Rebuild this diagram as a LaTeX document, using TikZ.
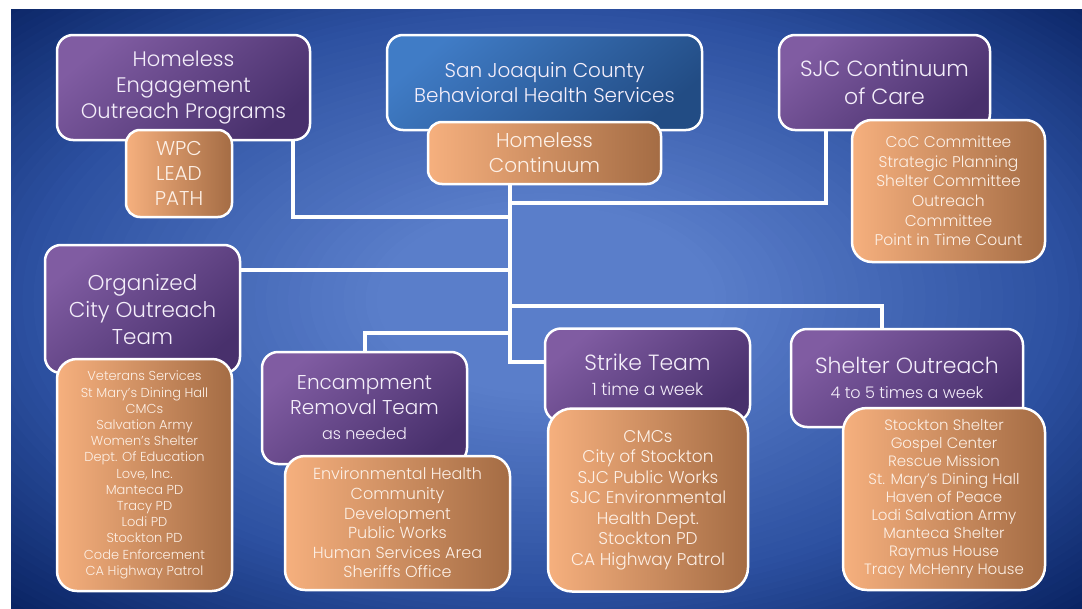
\documentclass[tikz,border=0pt]{standalone}
\usepackage{fontspec}
\setmainfont{Poppins Light}
\usetikzlibrary{positioning}

\definecolor{bgC}{RGB}{90,126,202}
\definecolor{bgM}{RGB}{44,80,160}
\definecolor{bgD}{RGB}{10,36,100}
\definecolor{purpleA}{RGB}{128,92,162}
\definecolor{purpleB}{RGB}{72,48,108}
\definecolor{blueA}{RGB}{64,124,198}
\definecolor{blueB}{RGB}{34,76,132}
\definecolor{orangeA}{RGB}{246,176,126}
\definecolor{orangeB}{RGB}{164,108,68}
\definecolor{lilac}{RGB}{244,238,250}
\definecolor{cream}{RGB}{253,240,230}
\pgfdeclarelayer{slide}
\pgfdeclarelayer{links}
\pgfsetlayers{slide,links,main}
\newcommand\setfs[2]{\fontsize{#1}{#2}\selectfont}

\begin{document}
\begin{tikzpicture}[x=1pt,y=-1pt,
  box/.style = {draw=white, line width=2.5pt, rounded corners=16pt, align=center, inner sep=0pt},
  purplebox/.style = {box, text=lilac, top color=purpleA, bottom color=purpleB, shading angle=40},
  bluebox/.style = {box, text=lilac, top color=blueA, bottom color=blueB, shading angle=40},
  orangebox/.style = {box, text=cream, left color=orangeA, right color=orangeB, rounded corners=20pt},
  link/.style = {draw=white, line width=4pt}]
\useasboundingbox (0,0) rectangle (1082,608);
\begin{pgfonlayer}{slide}
\fill[white] (0,0) rectangle (1082,608);
\clip (11,9) rectangle (1082,608);
% vignette, outer ring first
\foreach \i in {0,...,24} {
  \pgfmathsetmacro\r{1-0.32*\i/24}
  \pgfmathtruncatemacro\p{100-100*\i/24}
  \fill[bgD!\p!bgM] (546,300) ellipse [x radius=\r*770, y radius=\r*430];
}
\foreach \i in {1,...,32} {
  \pgfmathsetmacro\r{0.68-0.46*\i/32}
  \pgfmathtruncatemacro\p{100-100*\i/32}
  \fill[bgM!\p!bgC] (546,300) ellipse [x radius=\r*770, y radius=\r*430];
}
\end{pgfonlayer}

% heads
\node[bluebox, minimum width=315, minimum height=95, font=\setfs{20}{25}] (bhs) at (544.5,82.5) {San Joaquin County\\Behavioral Health Services};
\node[purplebox, minimum width=253, minimum height=105, font=\setfs{21}{26}] (heop) at (183.5,87.5) {Homeless\\Engagement\\Outreach Programs};
\node[purplebox, minimum width=211, minimum height=95, font=\setfs{22}{28}] (coc) at (884.5,82.5) {SJC Continuum\\of Care};
\node[purplebox, minimum width=195, minimum height=128, font=\setfs{21.5}{27}] (city) at (142.5,309) {Organized\\City Outreach\\Team};
\node[purplebox, minimum width=205, minimum height=112, font=\setfs{20}{25}] (enc) at (364.5,408) {Encampment\\Removal Team\\{\setfs{16}{22}as needed}};
\node[purplebox, minimum width=205, minimum height=93, font=\setfs{22}{25}] (strike) at (647.5,375) {Strike Team\\{\setfs{17}{20}1 time a week}};
\node[purplebox, minimum width=232, minimum height=98, font=\setfs{22}{25}] (shel) at (907,378) {Shelter Outreach\\{\setfs{16}{20}4 to 5 times a week}};

% orange lists
\node[orangebox, minimum width=233, minimum height=62, font=\setfs{20}{25}, rounded corners=14pt] (cont) at (544.5,153) {Homeless\\Continuum};
\node[orangebox, minimum width=106, minimum height=87, font=\setfs{20}{25}, rounded corners=14pt] (wpc) at (179,173.5) {WPC\\LEAD\\PATH};
\node[orangebox, minimum width=193, minimum height=142, font=\setfs{15.5}{19.6}] (cocsub) at (948.5,191) {CoC Committee\\Strategic Planning\\Shelter Committee\\Outreach\\Committee\\Point in Time Count};
\node[orangebox, minimum width=175, minimum height=232, font=\setfs{13}{16.2}] (citysub) at (144.5,475) {Veterans Services\\St Mary’s Dining Hall\\CMCs\\Salvation Army\\Women’s Shelter\\Dept. Of Education\\Love, Inc.\\Manteca PD\\Tracy PD\\Lodi PD\\Stockton PD\\Code Enforcement\\CA Highway Patrol};
\node[orangebox, minimum width=225, minimum height=134, font=\setfs{16}{19.6}] (encsub) at (397.5,523) {Environmental Health\\Community\\Development\\Public Works\\Human Services Area\\Sheriffs Office};
\node[orangebox, minimum width=200, minimum height=183, font=\setfs{17}{20.5}, rounded corners=24pt] (strikesub) at (648,500) {CMCs\\City of Stockton\\SJC Public Works\\SJC Environmental\\Health Dept.\\Stockton PD\\CA Highway Patrol};
\node[orangebox, minimum width=202, minimum height=182, font=\setfs{15}{18}, rounded corners=24pt] (shelsub) at (944,499) {Stockton Shelter\\Gospel Center\\Rescue Mission\\St. Mary’s Dining Hall\\Haven of Peace\\Lodi Salvation Army\\Manteca Shelter\\Raymus House\\Tracy McHenry House};

% connectors
\coordinate (jcoc) at (510,203);
\coordinate (jheop) at (510,217);
\coordinate (jcity) at (510,270);
\coordinate (jshel) at (510,306);
\coordinate (jenc) at (510,333);
\coordinate (jstr) at (510,362);
\begin{pgfonlayer}{links}
\draw[link] (cont.south -| jcoc) -- (jstr) -- (jstr -| strike.west);
\draw[link] (jcoc) -| ([xshift=48pt]coc.south west);
\draw[link] (jheop) -| ([xshift=-18pt]heop.south east);
\draw[link] (jcity) -- (jcity -| city.east);
\draw[link] (jshel) -| ([xshift=92pt]shel.north west);
\draw[link] (jenc) -| (enc.north);
\end{pgfonlayer}
\end{tikzpicture}
\end{document}
